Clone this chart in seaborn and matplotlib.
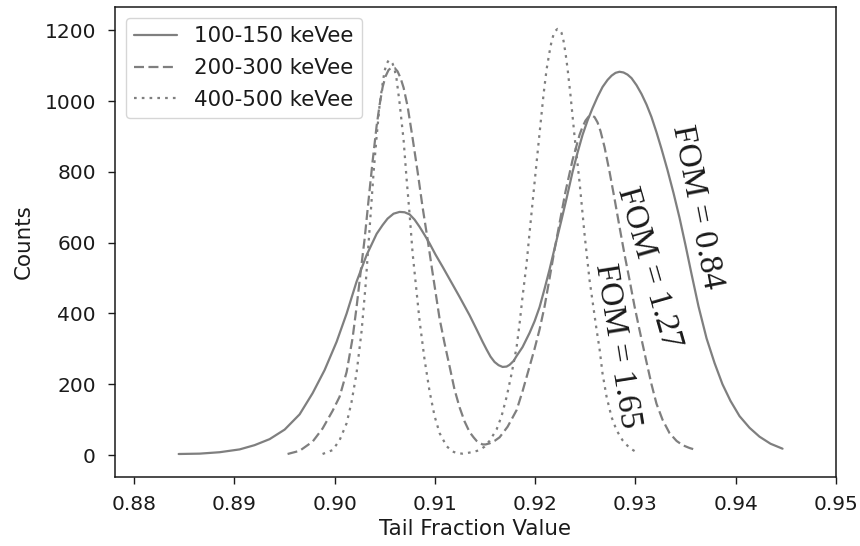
import matplotlib
matplotlib.use("Agg")
import matplotlib.pyplot as plt
import seaborn as sns

# ---- data ----
series_labels = ["100-150 keVee", "200-300 keVee", "400-500 keVee"]
fom_labels = ["FOM = 0.84", "FOM = 1.27", "FOM = 1.65"]
fom_x = [0.93615, 0.93130, 0.92822]
fom_y = [701, 529, 308]
fom_rot = [-79, -74, -81]

x_ticks = [0.88, 0.89, 0.90, 0.91, 0.92, 0.93, 0.94, 0.95]
x_tick_labels = ["0.88", "0.89", "0.90", "0.91", "0.92", "0.93", "0.94", "0.95"]
y_ticks = [0, 200, 400, 600, 800, 1000, 1200]

x_100 = [0.88445, 0.88654, 0.88853, 0.89053, 0.89202, 0.89352, 0.89502, 0.89651,
         0.89781, 0.89900, 0.90020, 0.90120, 0.90219, 0.90319, 0.90419, 0.90479,
         0.90528, 0.90588, 0.90648, 0.90698, 0.90748, 0.90798, 0.90847, 0.90897,
         0.90947, 0.91007, 0.91077, 0.91246, 0.91346, 0.91416, 0.91476, 0.91516,
         0.91555, 0.91595, 0.91635, 0.91675, 0.91715, 0.91745, 0.91785, 0.91815,
         0.91874, 0.91944, 0.91994, 0.92044, 0.92094, 0.92144, 0.92203, 0.92263,
         0.92313, 0.92373, 0.92423, 0.92473, 0.92522, 0.92572, 0.92622, 0.92672,
         0.92722, 0.92762, 0.92802, 0.92841, 0.92881, 0.92921, 0.92961, 0.93011,
         0.93061, 0.93111, 0.93160, 0.93210, 0.93260, 0.93320, 0.93380, 0.93440,
         0.93500, 0.93559, 0.93629, 0.93709, 0.93789, 0.93868, 0.93948, 0.94038,
         0.94138, 0.94237, 0.94347, 0.94467]
y_100 = [3, 4, 8, 16, 28, 45, 72, 115,
         175, 240, 320, 400, 490, 565, 625, 650,
         668, 682, 687, 686, 680, 665, 645, 622,
         598, 566, 532, 447, 395, 355, 320, 298,
         278, 263, 254, 249, 250, 255, 266, 280,
         305, 345, 378, 418, 470, 525, 595, 665,
         725, 800, 855, 905, 945, 980, 1012, 1040,
         1060, 1072, 1080, 1083, 1081, 1075, 1065, 1045,
         1020, 990, 955, 912, 865, 805, 740, 670,
         592, 512, 420, 330, 260, 200, 153, 110,
         77, 52, 32, 18]

x_200 = [0.89531, 0.89651, 0.89781, 0.89880, 0.89980, 0.90050, 0.90120, 0.90179,
         0.90219, 0.90269, 0.90299, 0.90349, 0.90379, 0.90419, 0.90449, 0.90479,
         0.90508, 0.90538, 0.90568, 0.90598, 0.90628, 0.90658, 0.90688, 0.90728,
         0.90778, 0.90828, 0.90877, 0.90927, 0.90977, 0.91047, 0.91097, 0.91147,
         0.91196, 0.91246, 0.91296, 0.91346, 0.91386, 0.91416, 0.91446, 0.91476,
         0.91506, 0.91545, 0.91595, 0.91645, 0.91725, 0.91815, 0.91874, 0.91944,
         0.91994, 0.92044, 0.92094, 0.92144, 0.92193, 0.92243, 0.92303, 0.92373,
         0.92443, 0.92472, 0.92502, 0.92532, 0.92562, 0.92592, 0.92622, 0.92652,
         0.92692, 0.92742, 0.92791, 0.92841, 0.92891, 0.92941, 0.92991, 0.93041,
         0.93111, 0.93160, 0.93210, 0.93270, 0.93340, 0.93410, 0.93470, 0.93539,
         0.93609]
y_200 = [3, 12, 38, 75, 125, 165, 235, 330,
         418, 540, 610, 749, 830, 930, 990, 1040,
         1070, 1088, 1095, 1094, 1084, 1065, 1038, 985,
         895, 800, 701, 610, 515, 385, 315, 250,
         185, 135, 95, 65, 50, 40, 34, 30,
         30, 33, 40, 50, 80, 127, 180, 250,
         300, 355, 420, 500, 580, 655, 745, 834,
         905, 927, 945, 956, 960, 955, 940, 915,
         870, 800, 725, 645, 567, 495, 420, 353,
         262, 200, 145, 100, 62, 40, 28, 20,
         14]

x_400 = [0.89880, 0.89980, 0.90050, 0.90120, 0.90169, 0.90219, 0.90269, 0.90309,
         0.90349, 0.90389, 0.90419, 0.90449, 0.90479, 0.90498, 0.90518, 0.90538,
         0.90558, 0.90578, 0.90598, 0.90618, 0.90648, 0.90688, 0.90718, 0.90748,
         0.90778, 0.90818, 0.90847, 0.90897, 0.90947, 0.90997, 0.91047, 0.91117,
         0.91176, 0.91226, 0.91276, 0.91326, 0.91386, 0.91446, 0.91496, 0.91545,
         0.91615, 0.91665, 0.91715, 0.91765, 0.91815, 0.91844, 0.91874, 0.91914,
         0.91944, 0.91994, 0.92044, 0.92084, 0.92114, 0.92144, 0.92163, 0.92183,
         0.92203, 0.92223, 0.92243, 0.92263, 0.92283, 0.92303, 0.92323, 0.92353,
         0.92393, 0.92443, 0.92492, 0.92542, 0.92582, 0.92612, 0.92642, 0.92672,
         0.92712, 0.92762, 0.92812, 0.92871, 0.92941, 0.93011]
y_400 = [3, 14, 42, 90, 150, 232, 350, 480,
         640, 800, 900, 990, 1050, 1085, 1105, 1115,
         1114, 1106, 1090, 1062, 995, 890, 780, 680,
         570, 460, 380, 270, 180, 110, 62, 25,
         10, 5, 4, 6, 9, 14, 24, 40,
         72, 110, 164, 230, 305, 370, 447, 540,
         628, 770, 910, 1020, 1090, 1140, 1168, 1188,
         1199, 1204, 1202, 1193, 1170, 1135, 1092, 1015,
         900, 770, 625, 495, 415, 355, 300, 230,
         165, 107, 70, 42, 20, 8]

# ---- drawing ----
sns.set_style("ticks")
plt.rcParams['font.family'] = ['DejaVu Sans']
plt.rcParams['axes.edgecolor'] = '#1a1a1a'
plt.rcParams['xtick.color'] = '#1a1a1a'
plt.rcParams['ytick.color'] = '#1a1a1a'
plt.rcParams['text.color'] = '#1a1a1a'
plt.rcParams['axes.labelcolor'] = '#1a1a1a'

fig = plt.figure(figsize=(8.6, 5.46), dpi=100)
ax = fig.add_axes([0.13372, 0.12637, 0.83837, 0.86081])

line_color = '#7f7f7f'
for xs, ys, lab in zip([x_100, x_200, x_400], [y_100, y_200, y_400], series_labels):
    sns.lineplot(x=xs, y=ys, ax=ax, color=line_color, linewidth=1.6,
                 label=lab, sort=False, estimator=None)

ax.lines[1].set_dashes([4.5, 2.0])
ax.lines[2].set_dashes([1.2, 2.3])

for s, fx, fy, r in zip(fom_labels, fom_x, fom_y, fom_rot):
    ax.text(fx, fy, s, rotation=r, rotation_mode='anchor', ha='center', va='center',
            fontsize=24, family=['Liberation Serif', 'DejaVu Serif'], color='#1a1a1a')

ax.set_xlim(0.8781, 0.95)
ax.set_ylim(-62, 1266)
ax.set_xticks(x_ticks)
ax.set_xticklabels(x_tick_labels)
ax.set_yticks(y_ticks)
ax.tick_params(axis='both', which='major', labelsize=14.5, length=5.2, width=1.0,
               direction='out')
ax.tick_params(axis='x', pad=7.5)
ax.tick_params(axis='y', pad=8.5)
for sp in ax.spines.values():
    sp.set_visible(True)
    sp.set_linewidth(1.1)

ax.set_xlabel('Tail Fraction Value', fontsize=15.4, labelpad=4)
ax.set_ylabel('Counts', fontsize=15.4, labelpad=8)

ax.legend(loc='upper left', fontsize=15.4, handlelength=2.0, labelspacing=0.55,
          frameon=True, framealpha=0.8, edgecolor='#cccccc', fancybox=True)

fig.savefig('out.png', dpi=100)
